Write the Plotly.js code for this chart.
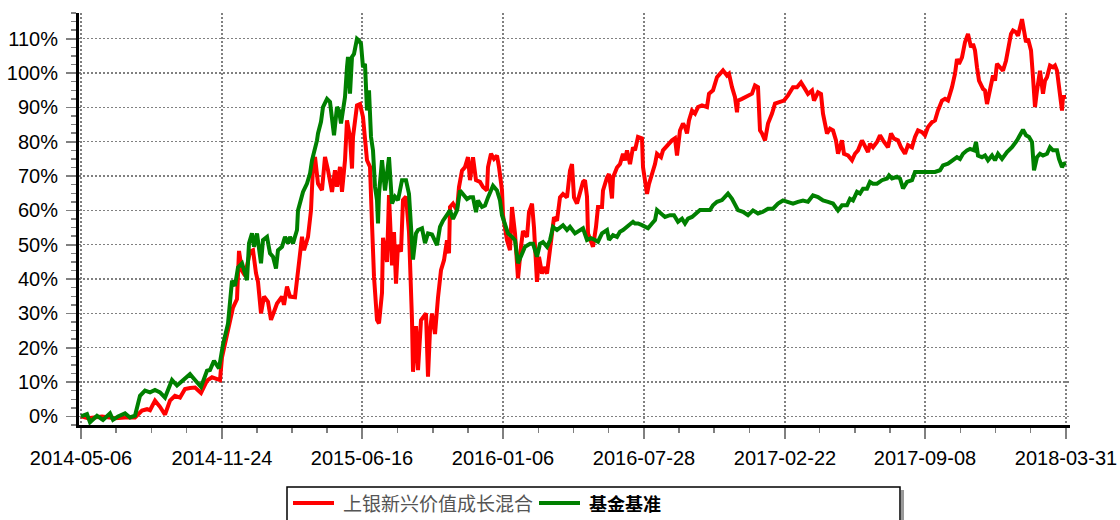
<!DOCTYPE html>
<html>
<head>
<meta charset="utf-8">
<script src="https://cdn.plot.ly/plotly-3.0.1.min.js"></script>
<style>
html,body{margin:0;padding:0;background:#fff;}
#chart{width:1120px;height:520px;}
</style>
</head>
<body>
<div id="chart"></div>
<script>
// tick positions are in trading-day index units
const tickIdx = [0, 141, 281, 422, 563, 704, 844, 985];
const tickLabels = ['2014-05-06','2014-11-24','2015-06-16','2016-01-06','2016-07-28','2017-02-22','2017-09-08','2018-03-31'];

const fundName = '上银新兴价值成长混合';
const benchName = '基金基准';
const fundColor = '#ff0000';
const benchColor = '#008000';

const fundX = [0,7,21,34,44,54,61,66,69,74,79,84,89,94,99,104,109,114,120,126,131,136,139,141,146,149,152,156,158,161,164,169,172,175,177,180,183,187,190,193,196,201,203,206,209,214,217,221,223,227,230,232,234,237,241,244,247,251,254,256,259,261,264,266,269,271,272,276,279,282,286,289,291,293,296,298,301,302,306,308,311,313,315,317,320,322,325,328,331,332,335,337,340,342,345,347,349,351,354,357,360,363,366,368,369,372,376,378,381,384,387,389,392,395,399,402,406,407,410,413,416,418,421,422,426,429,431,434,437,440,442,446,448,451,453,456,458,461,463,466,468,471,473,476,479,482,486,489,491,493,496,499,502,504,506,507,510,512,515,517,521,522,526,528,531,532,536,539,542,544,546,549,552,554,557,561,562,564,566,568,571,574,576,580,582,585,587,591,594,596,599,602,604,606,608,611,614,617,621,626,628,632,636,639,642,646,648,651,654,656,657,661,664,667,671,674,677,679,681,684,687,691,694,699,703,707,712,716,720,724,727,731,733,737,740,742,746,749,752,755,757,761,763,767,771,774,777,781,784,787,789,792,796,799,802,807,810,813,817,820,824,827,831,834,837,841,844,847,851,854,857,861,864,867,871,874,876,878,881,884,887,890,892,894,896,898,902,904,906,909,912,914,916,919,922,925,927,930,932,935,937,939,941,943,945,947,950,952,954,956,959,962,964,966,969,972,974,976,979,981,982,985];
const fundY = [0,-0.5,0,-0.5,-0.3,-0.3,1.7,2.1,1.8,4.6,2.8,0.5,4.6,6,5.5,8,8.3,8.4,6.8,10.4,11.4,10.9,10.6,17.2,24,28.8,31.7,34.2,48.2,42.4,41,48,48.4,41.7,39.2,30,34.9,33.4,28.1,30.5,32.9,34.9,32.5,37.8,34.9,34.7,42.6,52.3,48.4,52.3,60,72.7,75.6,67.8,65.9,75.6,71.7,65.4,71.7,66.9,72.7,65.4,74.6,86.2,81.4,72.2,81.4,90.6,91,87.2,74.6,72.7,56.2,40.7,28.1,27.1,36,52,45,64.5,44,53.7,38.7,50,48,63,64,53.7,28,13,26.3,13.5,28,29,30,11.6,25,30,24,34.6,42.6,45.5,51.3,47.5,61,62,60,66.8,71.6,72.6,75.5,68.8,75.5,68.8,68.3,66.8,65.8,72.6,76.5,75,76,72.6,65.8,58.6,51.3,48.4,61,53.3,40.2,49.4,54,52.3,59.5,62,55,39.2,46.5,41.6,43.5,41.6,45.5,53.3,58,57,63.8,64.8,63.8,71.6,73.5,63.8,62,64.8,68.3,68.8,64,53.3,50.4,49.4,55.2,61,61,65.8,69.6,70.6,63.5,69.6,72.5,73.5,76.5,74.6,77.5,73.5,78.4,77.5,81.4,81,72.6,67.7,64.8,67.7,70.6,73.5,76.5,75.5,77.5,78.4,79.4,80.4,81,76,83.3,85.3,84.3,82.4,86.2,89.1,88.2,90.1,90.6,90.1,94,95,98.8,99.8,100.8,99.3,99.8,95.9,93,88.6,92,92.5,93,93.5,94,96.4,95.9,83.3,82.4,80.4,85.3,88.2,91.1,91.6,92,93.5,95.9,95.9,97.3,95.4,93.9,94.9,92,94.4,93.9,88.2,82.4,83.8,83.3,80.4,76.5,80.4,76.5,76,74.6,76.5,77.5,80.4,78.4,77,79.4,78.4,79.9,81.9,80.4,78.4,82.4,80.9,80.4,78.4,76.5,79,78.4,81.4,83.3,82.8,81.9,84.3,85.7,86.2,89.1,92,92.5,92,95.9,99.8,104.1,102.7,104.6,109,111.4,107.5,108.5,106.6,101.7,97.8,95.4,94.9,91,94.9,99.3,97.8,102.7,101.7,100.7,103.6,106.6,111.4,112.4,111.9,110.9,113.3,115.7,112.4,109,110,106.6,98.8,90.1,94.9,100.7,94,97.8,98.8,102.2,101.7,102.2,100.7,94,89.1,93,93];

const benchX = [0,6,9,16,22,29,32,37,44,49,54,59,64,69,74,79,84,91,96,101,109,114,120,126,129,133,138,142,147,151,154,157,161,166,168,171,173,176,178,180,182,186,189,192,195,197,201,204,207,209,212,216,217,220,222,226,229,231,234,236,237,240,242,246,249,251,253,256,258,260,262,264,266,267,269,271,273,276,278,280,282,284,286,288,290,292,294,296,297,298,301,304,308,311,314,317,321,325,328,331,332,335,337,341,344,347,351,356,359,362,366,369,372,376,379,382,386,389,392,395,397,401,404,407,412,416,419,421,424,427,431,434,437,441,444,449,452,456,459,462,466,469,472,476,479,482,486,489,494,497,502,506,510,514,517,521,526,528,532,536,539,542,546,549,552,554,557,561,564,567,571,574,576,580,584,589,593,597,601,604,607,611,616,619,624,629,632,636,641,644,647,651,654,657,662,667,672,677,682,687,692,697,702,707,712,717,722,727,732,737,742,747,752,757,761,766,769,772,776,779,782,786,789,792,796,801,806,808,811,816,819,822,826,831,834,839,844,849,854,859,862,867,872,876,879,882,886,889,893,895,897,901,904,907,911,914,917,921,926,931,936,939,942,945,948,951,953,956,959,962,966,969,972,976,978,981,983,985];
const benchY = [0,0.7,-1.7,0.2,-1,0.9,-1,0,0.9,-0.3,0.2,6,7.5,7,7.7,7,5.5,10.6,9,10.4,12.3,10.6,8.6,13.3,13.5,16.2,14,21,27,39.5,38,43.4,44.6,39.7,50.4,53.3,49.4,53.3,49.4,44.6,51.4,52.3,47.5,46.5,43.1,48.4,49.4,52.3,50.4,52.3,50.4,54.3,60,64,65.4,67.8,70.7,74.6,77.5,80.4,82.4,85.8,90.1,92.5,91.6,86.2,81.9,90.1,89.1,85.3,90.1,93,101.7,104.7,94,104.7,105.6,110,109.5,108.5,101.7,102.7,89.1,95,81.4,77.5,66.9,63,56.2,64.8,74.6,65.8,75.5,62,64,63,68.8,68.8,64.8,53.2,45.7,53.3,54.3,54.8,50.5,53.3,53,49.9,55.2,57,59,60,57.5,60,65.8,64.8,63.3,63.8,63.8,59.5,62.9,61,61.4,63.8,67.2,65.8,62.9,58.6,56.2,53.3,52.3,51.3,44.6,47.5,49.4,50.3,50.3,46.5,50.3,50.8,49.4,51.3,55.2,54.3,55.2,55.7,54.3,55.2,53.3,53.8,54.8,51.4,51.9,51.4,50.9,53.3,54.3,51.4,52.8,52.3,53.8,54.3,55.2,56.2,56.7,56.2,56.2,55.7,55.2,54.8,56.2,57.2,60.1,59.1,58.1,58.6,58.6,56.7,57.6,56.2,57.6,58.1,59.6,60.1,60.1,60.1,61.5,62.5,63,63.9,64.9,63.4,62,60.1,59.6,58.6,60,59.1,59.6,60.5,60.5,62,62.9,62.5,62,62.5,62.9,62.5,64.4,63.9,62.9,62.5,62,60,61.5,61.5,63.4,62.9,65.4,64.9,66.3,66.3,68.3,67.8,67.8,68.8,69.3,70.2,69.3,69.8,69.3,66.4,68.3,68.8,71.2,71.2,71.2,71.2,71.2,71.7,73.1,73.6,74.6,75.5,75,76.5,77.5,77.9,77.5,79.9,76,75.5,76,74.6,76,74.6,76.5,75,77,78.4,80.4,81.9,83.5,81.9,81.4,79.9,71.7,75.5,76.5,76,76.5,78.4,77.5,77.5,75,72.6,73.6,73.8];

const L = 79, R = 50, T = 13, B = 95, W = 1120, H = 520;
const pw = W - L - R, ph = H - T - B;
const px = v => (v - L) / pw;
const py = v => (H - B - v) / ph;

const traces = [
  {x: fundX, y: fundY, type: 'scatter', mode: 'lines', name: fundName, line: {color: fundColor, width: 4}},
  {x: benchX, y: benchY, type: 'scatter', mode: 'lines', name: benchName, line: {color: benchColor, width: 4}}
];

const grid = {gridcolor: '#808080', gridwidth: 1.4, griddash: '2px,2px'};
const legY = py(503);
const cjk = '"Noto Sans CJK SC", "Liberation Sans", sans-serif';

const layout = {
  width: W, height: H,
  margin: {l: L, r: R, t: T, b: B, pad: 0, autoexpand: false},
  paper_bgcolor: '#ffffff', plot_bgcolor: '#ffffff',
  font: {family: 'Liberation Sans, Arial, sans-serif', size: 20, color: '#000'},
  showlegend: false,
  xaxis: Object.assign({
    range: [-2, 989], tickmode: 'array', tickvals: tickIdx, ticktext: tickLabels,
    ticks: 'outside', ticklen: 11, tickwidth: 1.5, tickcolor: '#808080',
    showline: true, linecolor: '#000', linewidth: 3, zeroline: false, showgrid: true,
    tickfont: {size: 20}, ticklabelstandoff: 2, automargin: false,
    minor: {tickmode: 'linear', tick0: 0, dtick: 140.7 / 4, ticks: 'outside', ticklen: 5, tickwidth: 1.5, tickcolor: '#808080', showgrid: false}
  }, grid),
  yaxis: Object.assign({
    range: [-2.5, 117.5], tickmode: 'linear', tick0: 0, dtick: 10, ticksuffix: '%',
    ticks: 'outside', ticklen: 10, tickwidth: 1.5, tickcolor: '#808080',
    showline: true, linecolor: '#000', linewidth: 3, zeroline: false, showgrid: true,
    tickfont: {size: 20}, ticklabelstandoff: 4, automargin: false,
    minor: {tickmode: 'linear', tick0: 0, dtick: 2.5, ticks: 'outside', ticklen: 5, tickwidth: 1.5, tickcolor: '#808080', showgrid: false}
  }, grid),
  shapes: [
    {type: 'rect', xref: 'paper', yref: 'paper', x0: px(287), x1: px(900), y0: py(487), y1: py(535),
     line: {color: '#000', width: 1.5}, fillcolor: 'rgba(0,0,0,0)'},
    {type: 'line', xref: 'paper', yref: 'paper', x0: px(902.5), x1: px(902.5), y0: py(490), y1: py(535),
     line: {color: '#999999', width: 3}},
    {type: 'line', xref: 'paper', yref: 'paper', x0: px(293), x1: px(334), y0: legY, y1: legY,
     line: {color: fundColor, width: 4}},
    {type: 'line', xref: 'paper', yref: 'paper', x0: px(539), x1: px(580), y0: legY, y1: legY,
     line: {color: benchColor, width: 4}}
  ],
  annotations: [
    {xref: 'paper', yref: 'paper', x: px(341), y: legY, xanchor: 'left', yanchor: 'middle', showarrow: false,
     text: fundName, font: {family: cjk, size: 19, color: '#555555'}},
    {xref: 'paper', yref: 'paper', x: px(587), y: legY, xanchor: 'left', yanchor: 'middle', showarrow: false,
     text: '<b>' + benchName + '</b>', font: {family: cjk, size: 18, color: '#000000'}}
  ]
};

Plotly.newPlot('chart', traces, layout, {displayModeBar: false, staticPlot: true});
</script>
</body>
</html>
